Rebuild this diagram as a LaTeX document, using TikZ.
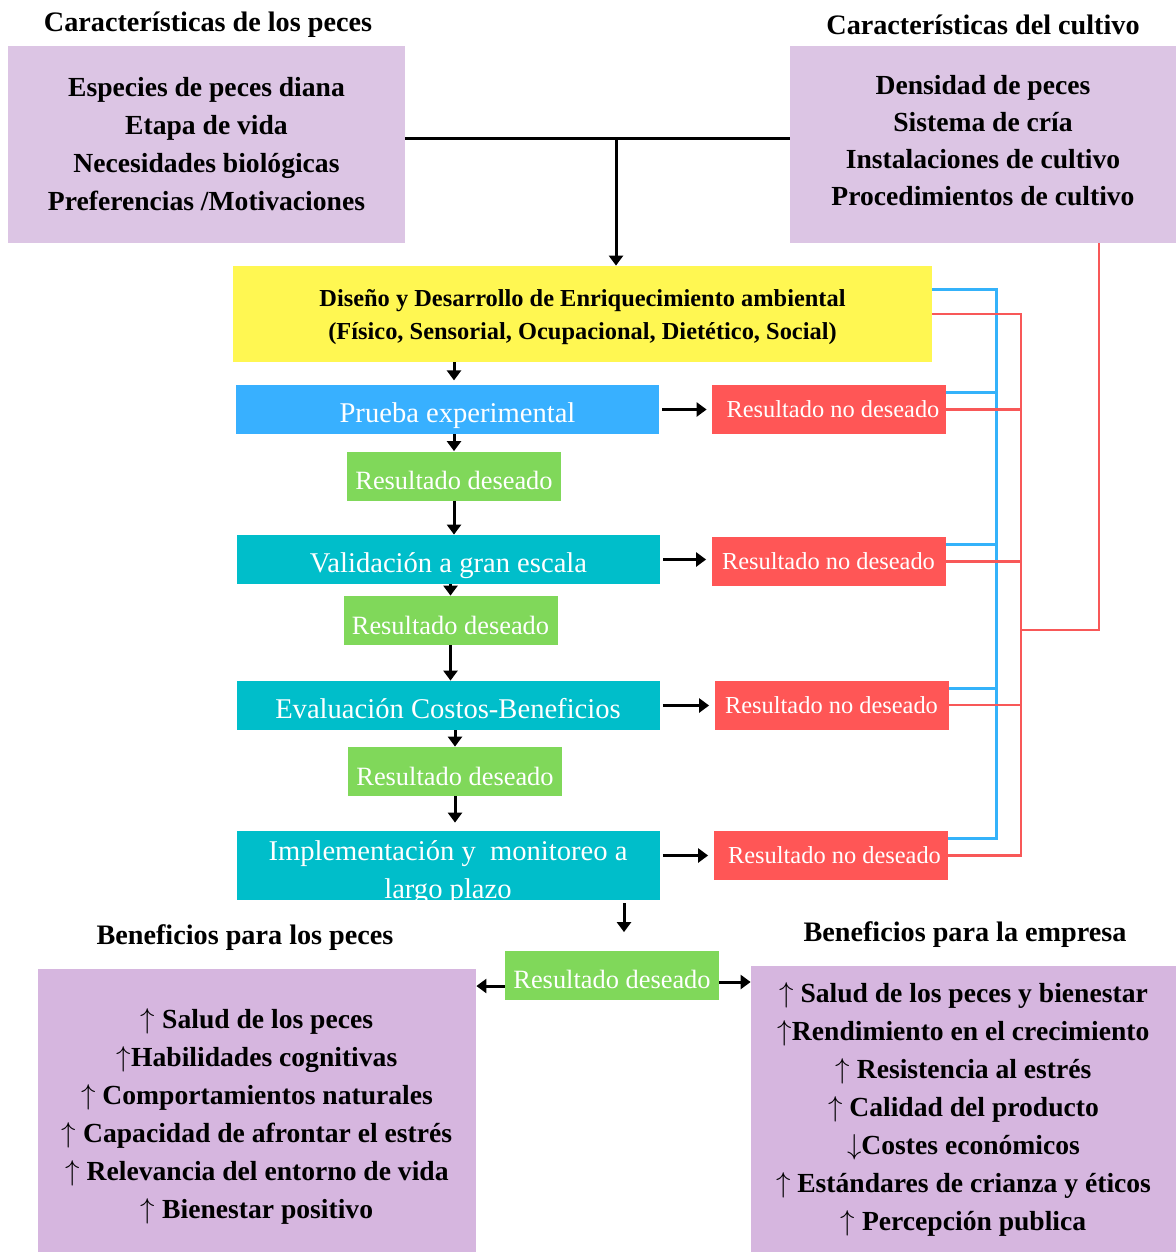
\documentclass[tikz,border=0pt]{standalone}
\usepackage{fontspec}
\setmainfont{Liberation Serif}
\usetikzlibrary{positioning,arrows.meta}
\definecolor{cLila}{RGB}{220,197,228}
\definecolor{cLilaB}{RGB}{214,182,223}
\definecolor{cYellow}{RGB}{255,247,82}
\definecolor{cBlue}{RGB}{56,176,255}
\definecolor{cTeal}{RGB}{0,190,202}
\definecolor{cRed}{RGB}{255,86,86}
\definecolor{cGreen}{RGB}{128,216,90}
\definecolor{cLineBlue}{RGB}{52,178,250}
\definecolor{cLineRed}{RGB}{248,88,88}
\newcommand{\sube}{$\uparrow$}
\newcommand{\baja}{$\downarrow$}

\begin{document}
\begin{tikzpicture}[x=0.5pt,y=-0.5pt,
    caja/.style={inner sep=0pt, align=center},
    lila/.style={caja, fill=cLila, font=\bfseries\fontsize{13.8}{19}\selectfont},
    lilab/.style={caja, fill=cLilaB, font=\bfseries\fontsize{13.8}{19}\selectfont},
    titulo/.style={font=\bfseries\fontsize{14.1}{16}\selectfont, inner sep=0pt},
    etapa/.style={caja, text=white, minimum width=211.5pt, minimum height=24.5pt,
        text height=12.8pt, text depth=0pt, font=\fontsize{14.3}{19}\selectfont},
    nodeseo/.style={caja, fill=cRed, text=white, minimum width=117pt, minimum height=24.5pt,
        font=\fontsize{12.2}{14}\selectfont},
    sies/.style={caja, fill=cGreen, text=white, minimum width=107pt, minimum height=24.5pt,
        text height=13.6pt, text depth=0pt, font=\fontsize{13.2}{15}\selectfont},
    flecha/.style={-{Triangle[width=7pt,length=5pt]}, line width=1.5pt},
    azul/.style={draw=cLineBlue, line width=1.5pt},
    rojo/.style={draw=cLineRed, line width=1.3pt}]
    \useasboundingbox (0,0) rectangle (1176,1252);

    % caracteristicas de arriba
    \node[titulo] (titP) at (208,25) {Características de los peces};
    \node[titulo] (titC) at (983,25) {Características del cultivo};
    \node[lila, minimum width=198.5pt, minimum height=98.5pt] (peces) at (206.5,144.5)
        {Especies de peces diana\\Etapa de vida\\Necesidades biológicas\\Preferencias /Motivaciones};
    \node[lila, minimum width=193pt, minimum height=98.5pt,
          font=\bfseries\fontsize{13.8}{18.5}\selectfont] (cultivo) at (983,144.5)
        {Densidad de peces\\Sistema de cría\\Instalaciones de cultivo\\Procedimientos de cultivo\rule[-4pt]{0pt}{0pt}};

    % diseno
    \node[caja, fill=cYellow, minimum width=349.5pt, minimum height=48pt,
          font=\bfseries\fontsize{12.2}{16.5}\selectfont] (dis) at (582.5,314)
        {\rule{0pt}{12pt}Diseño y Desarrollo de Enriquecimiento ambiental\\(Físico, Sensorial, Ocupacional, Dietético, Social)};

    \coordinate (junta) at (616,138);
    \draw[line width=1.5pt] ([yshift=3.25pt]peces.east) -- ([yshift=3.25pt]cultivo.west);
    \draw[flecha] (junta) -- (junta |- dis.north);

    % etapas
    \node[etapa, fill=cBlue] (pru) at (447.5,409.5) {\hspace*{10pt}Prueba experimental};
    \node[nodeseo] (nd1) at (829,409.5) {\hspace*{4pt}Resultado no deseado};
    \node[sies] (des1) at (454,476) {Resultado deseado};
    \node[etapa, fill=cTeal] (val) at (448.5,559.5) {Validación a gran escala};
    \node[nodeseo] (nd2) at (828.5,561.5) {Resultado no deseado};
    \node[sies] (des2) at (450.5,620.5) {Resultado deseado};
    \node[etapa, fill=cTeal] (eva) at (448,705.5) {Evaluación Costos-Beneficios};
    \node[nodeseo] (nd3) at (831.5,705) {Resultado no deseado};
    \node[sies] (des3) at (455,771.5) {Resultado deseado};
    \node[etapa, fill=cTeal, minimum height=34.5pt, text height=33.2pt] (imp) at (448,865.5)
        {Implementación y \ monitoreo a\\largo plazo};
    \node[nodeseo] (nd4) at (830.5,855.5) {\hspace*{4pt}Resultado no deseado};
    \node[sies] (des4) at (612,975) {Resultado deseado};

    % flechas hacia abajo
    \draw[flecha] (des1.north |- dis.south) -- ++(0,18);
    \draw[flecha] (des1.north |- pru.south) -- (des1.north);
    \draw[flecha] (des1.south) -- (des1.south |- val.north);
    \draw[flecha] (des2.north |- val.south) -- (des2.north);
    \draw[flecha] (des2.south) -- (des2.south |- eva.north);
    \draw[flecha] (des3.north |- eva.south) -- (des3.north);
    \draw[flecha] (des3.south) -- ([yshift=4pt]des3.south |- imp.north);
    \draw[flecha] ([xshift=6pt,yshift=-1.5pt]des4.north |- imp.south) -- ([xshift=6pt,yshift=9pt]des4.north);

    % flechas hacia la derecha
    \foreach \e/\n in {pru/nd1,val/nd2,eva/nd3}
        \draw[flecha, shorten <=1.5pt, shorten >=2.5pt] (\e.east) -- (\e.east -| \n.west);
    \draw[flecha, shorten <=1.5pt, shorten >=2.5pt] ([yshift=5pt]imp.east) -- ([yshift=5pt]imp.east -| nd4.west);

    % beneficios
    \node[titulo] (titBP) at (245,938) {Beneficios para los peces};
    \node[titulo] (titBE) at (965,935) {Beneficios para la empresa};
    \node[lilab, minimum width=219pt, minimum height=141.5pt] (benP) at (257,1110.5)
        {\rule{0pt}{16pt}\sube\ Salud de los peces\\\sube Habilidades cognitivas\\\sube\ Comportamientos naturales\\\sube\ Capacidad de afrontar el estrés\\\sube\ Relevancia del entorno de vida\\\sube\ Bienestar positivo};
    \node[lilab, minimum width=212.5pt, minimum height=143pt] (benE) at (963.5,1109)
        {\sube\ Salud de los peces y bienestar\\\sube Rendimiento en el crecimiento\\\sube\ Resistencia al estrés\\\sube\ Calidad del producto\\\baja Costes económicos\\\sube\ Estándares de crianza y éticos\\\sube\ Percepción publica};
    \draw[flecha] ([yshift=-5.5pt]des4.west) -- ([yshift=-5.5pt]des4.west -| benP.east);
    \draw[flecha] ([yshift=-3.5pt]des4.east) -- ([yshift=-3.5pt]des4.east -| benE.west);

    % lineas de retorno
    \coordinate (busA) at (996,0);
    \coordinate (busR) at (1021,0);
    \coordinate (busC) at (1099,0);
    \coordinate (cruce) at (1021,630);
    \foreach \n in {nd1,nd2,nd3,nd4}
        \coordinate (\n-a) at ([yshift=8.5pt]\n.east);
    \draw[azul] ([yshift=12.5pt]dis.east) -| (busA |- nd4-a) -- (nd4-a);
    \foreach \n in {nd1,nd2,nd3}
        \draw[azul] (\n-a) -- (busA |- \n-a);
    \draw[rojo] (dis.east) -| (busR |- nd4.east) -- (nd4.east);
    \foreach \n in {nd1,nd2,nd3}
        \draw[rojo] (\n.east) -- (busR |- \n.east);
    \draw[rojo] (cruce) -| (busC |- cultivo.south);
\end{tikzpicture}
\end{document}
